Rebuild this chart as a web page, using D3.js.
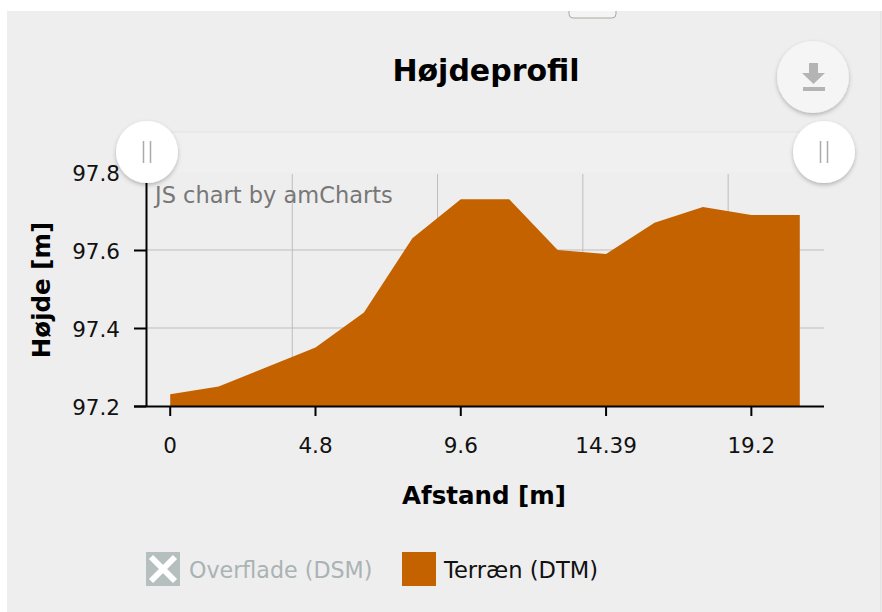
<!DOCTYPE html>
<html>
<head>
<meta charset="utf-8">
<script src="https://cdn.jsdelivr.net/npm/d3@7/dist/d3.min.js"></script>
<style>
  html, body { margin: 0; padding: 0; background: #fff; }
  svg { display: block; font-family: "DejaVu Sans", sans-serif; }
  .axis text { font-family: "DejaVu Sans", sans-serif; font-size: 21.5px; fill: #111; }
  .axis-title { font-size: 24.5px; font-weight: bold; fill: #000; }
</style>
</head>
<body>
<svg id="chart" width="882" height="612"></svg>
<script>
// Høydata
const distances = ["0", "1.6", "3.2", "4.8", "6.4", "8", "9.6", "11.2", "12.79", "14.39", "16", "17.6", "19.2", "20.8"];
const terrain = [97.23, 97.25, 97.30, 97.35, 97.44, 97.63, 97.73, 97.73, 97.60, 97.59, 97.67, 97.71, 97.69, 97.69];
const xTickLabels = ["0", "4.8", "9.6", "14.39", "19.2"];
const yTicks = [97.2, 97.4, 97.6, 97.8];
const legendItems = ["Overflade (DSM)", "Terræn (DTM)"];

const ORANGE = "#c46200";
const svg = d3.select("#chart");

const x = d3.scaleBand().domain(distances).range([146, 824]);
const y = d3.scaleLinear().domain([97.2, 97.8]).range([406, 172]);
const cx = (d) => x(d) + x.bandwidth() / 2;

// baggrund
svg.append("rect").attr("x", 7).attr("y", 11).attr("width", 874).attr("height", 601).attr("fill", "#eeeeee");
svg.append("line").attr("x1", 881).attr("x2", 881).attr("y1", 11).attr("y2", 612).attr("stroke", "#d8d8d8");
svg.append("path").attr("d", "M569,11v3q0,4 4,4h39q4,0 4,-4v-3").attr("fill", "#f4f4f4").attr("stroke", "#a9a9a0").attr("stroke-width", 1);

const defs = svg.append("defs");
const shadow = defs.append("filter").attr("id", "shadow").attr("x", "-30%").attr("y", "-30%").attr("width", "160%").attr("height", "160%");
shadow.append("feDropShadow").attr("dx", 0).attr("dy", 2).attr("stdDeviation", 2).attr("flood-color", "#000").attr("flood-opacity", 0.25);

// scrollbar
svg.append("rect").attr("x", 146).attr("y", 132).attr("width", 678).attr("height", 40).attr("fill", "#f0f0f0");
svg.append("line").attr("x1", 146).attr("x2", 800).attr("y1", 132).attr("y2", 132).attr("stroke", "#e2e2e2").attr("stroke-width", 1);

// grid - amCharts tegner lodrette linjer ved kategoriens start
svg.append("g").selectAll("line").data(yTicks.slice(1, 3)).join("line")
  .attr("x1", 146).attr("x2", 824).attr("y1", y).attr("y2", y)
  .attr("stroke", "#bdbdbd").attr("stroke-width", 1);
svg.append("g").selectAll("line").data(xTickLabels.slice(1)).join("line")
  .attr("x1", (d) => x(d) + 1).attr("x2", (d) => x(d) + 1).attr("y1", 174).attr("y2", 406)
  .attr("stroke", "#bdbdbd").attr("stroke-width", 1);

// terræn
const area = d3.area()
  .x((d) => cx(d.dist))
  .y0(y(97.2))
  .y1((d) => y(d.val));
svg.append("path")
  .datum(distances.map((d, i) => ({ dist: d, val: terrain[i] })))
  .attr("d", area)
  .attr("fill", ORANGE);

// akser
const xAxis = svg.append("g").attr("class", "axis").attr("transform", "translate(0,406)")
  .call(d3.axisBottom(x).tickValues(xTickLabels).tickSize(10).tickPadding(22));
xAxis.select(".domain").attr("d", "M134,0.5H824").attr("stroke", "#000").attr("stroke-width", 2);
xAxis.selectAll(".tick line").attr("stroke", "#000").attr("stroke-width", 2);

const yAxis = svg.append("g").attr("class", "axis").attr("transform", "translate(146,0)")
  .call(d3.axisLeft(y).tickValues(yTicks).tickFormat(d3.format(".1f")).tickSize(12).tickPadding(14));
yAxis.select(".domain").attr("d", "M0.5,172V406").attr("stroke", "#000").attr("stroke-width", 2);
yAxis.selectAll(".tick line").attr("stroke", "#000").attr("stroke-width", 2);
yAxis.selectAll(".tick text").attr("dy", "0.38em");

// titler
svg.append("text").attr("x", 486).attr("y", 81).attr("text-anchor", "middle")
  .attr("font-size", 30).attr("font-weight", "bold").text("Højdeprofil");
svg.append("text").attr("class", "axis-title").attr("x", 484).attr("y", 504).attr("text-anchor", "middle").text("Afstand [m]");
svg.append("text").attr("class", "axis-title").attr("transform", "translate(50,290) rotate(-90)").attr("text-anchor", "middle").text("Højde [m]");
svg.append("text").attr("x", 155).attr("y", 203).attr("font-size", 22.5).attr("fill", "#777").text("JS chart by amCharts");

// scrollbar-håndtag
[[147, 152], [824, 152]].forEach(([hx, hy]) => {
  svg.append("circle").attr("cx", hx).attr("cy", hy).attr("r", 31).attr("fill", "#fff").attr("filter", "url(#shadow)");
  svg.append("path").attr("d", `M${hx - 3.5},${hy - 11}v22M${hx + 3.5},${hy - 11}v22`).attr("stroke", "#aaa").attr("stroke-width", 1.5).attr("fill", "none");
});

// download-knap
svg.append("circle").attr("cx", 813).attr("cy", 77).attr("r", 36).attr("fill", "#f5f5f5").attr("filter", "url(#shadow)");
svg.append("path").attr("d", "M809,63h9v10h7l-11.5,11l-11.5,-11h7z").attr("fill", "#b4b4b4");
svg.append("rect").attr("x", 803).attr("y", 87).attr("width", 22).attr("height", 4).attr("fill", "#b4b4b4");

// legende
const legendX = [146, 402];
const legendColor = ["#b5bfbd", ORANGE];
const legendTextColor = ["#aab3b3", "#111"];
const legendFont = [22.2, 22.6];
legendItems.forEach((name, i) => {
  const g = svg.append("g").attr("transform", `translate(${legendX[i]},552)`);
  g.append("rect").attr("width", 34).attr("height", 34).attr("fill", legendColor[i]);
  if (i === 0) {
    g.append("path").attr("d", "M5,5L29,29M29,5L5,29").attr("stroke", "#fff").attr("stroke-width", 6);
  }
  g.append("text").attr("x", i === 0 ? 43 : 42).attr("y", 26).attr("font-size", legendFont[i]).attr("fill", legendTextColor[i]).text(name);
});
</script>
</body>
</html>
